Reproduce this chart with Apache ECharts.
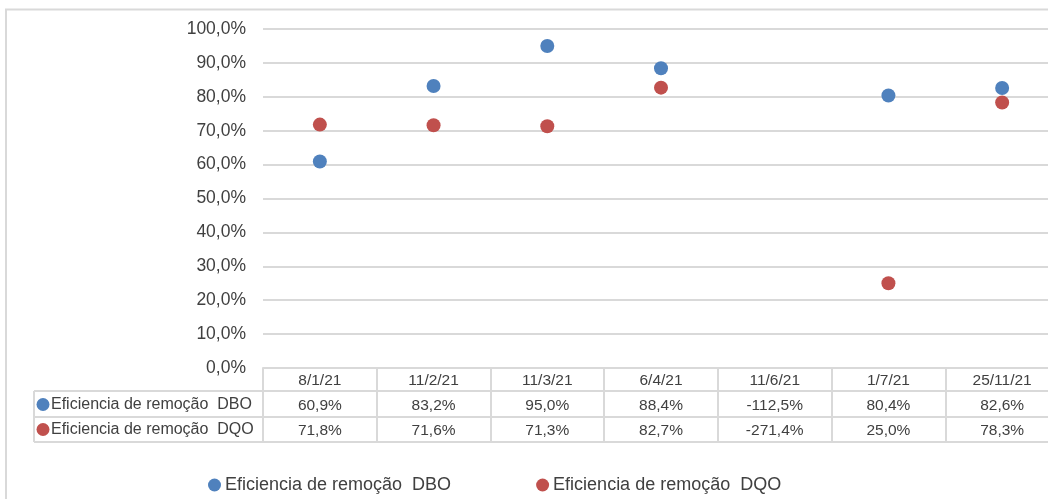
<!DOCTYPE html>
<html>
<head>
<meta charset="utf-8">
<script src="https://cdn.jsdelivr.net/npm/echarts@6/dist/echarts.min.js"></script>
<style>html,body{margin:0;padding:0;background:#fff;overflow:hidden;}#c{width:1080px;height:499px;}</style>
</head>
<body>
<div id="c"></div>
<script>
var dates = ['8/1/21', '11/2/21', '11/3/21', '6/4/21', '11/6/21', '1/7/21', '25/11/21'];
var dbo = [60.9, 83.2, 95.0, 88.4, -112.5, 80.4, 82.6];
var dqo = [71.8, 71.6, 71.3, 82.7, -271.4, 25.0, 78.3];
var seriesNames = ['Eficiencia de remoção  DBO', 'Eficiencia de remoção  DQO'];
var colors = ['#4F81BD', '#C0504D'];

var FONT = 'Liberation Sans, Arial, sans-serif';
var TXT = '#404040';
var LINE = '#D9D9D9';

function pct(v) { return v.toFixed(1).replace('.', ',') + '%'; }

var chart = echarts.init(document.getElementById('c'));

function tableAxis(offset, values, margin, showLabel, showTick, tickLen) {
  return {
    type: 'category',
    gridIndex: 0,
    position: 'bottom',
    offset: offset,
    data: dates,
    boundaryGap: true,
    axisLine: { show: true, lineStyle: { color: LINE, width: 2 } },
    axisTick: { show: showTick, interval: 0, length: tickLen, inside: false, lineStyle: { color: LINE, width: 2 } },
    axisLabel: {
      show: showLabel, interval: 0, margin: margin, fontSize: 15.5, fontFamily: FONT, color: TXT,
      formatter: function (v, i) { return values ? pct(values[i]) : v; }
    },
    splitLine: { show: false }
  };
}

var option = {
  animation: false,
  backgroundColor: '#fff',
  grid: { left: 263, top: 29, width: 796, height: 339, containLabel: false },
  xAxis: [
    tableAxis(0, null, 4.5, true, true, 23),
    tableAxis(23, dbo, 7, true, true, 26),
    tableAxis(49, dqo, 5.5, true, true, 25),
    tableAxis(74, null, 0, false, false, 0)
  ],
  yAxis: {
    type: 'value', min: 0, max: 1, interval: 0.1,
    axisLine: { show: false }, axisTick: { show: false },
    splitLine: { lineStyle: { color: LINE, width: 2 } },
    axisLabel: {
      margin: 17, fontSize: 17.5, fontFamily: FONT, color: TXT,
      formatter: function (v) { return pct(v * 100); }
    }
  },
  legend: {
    left: 203, top: 471,
    icon: 'circle', itemWidth: 13, itemHeight: 13, itemGap: 85,
    textStyle: { fontSize: 18, fontFamily: FONT, color: TXT, padding: [0, 0, 0, -1] },
    data: seriesNames
  },
  series: [
    {
      name: seriesNames[0], type: 'scatter', xAxisIndex: 0, clip: true,
      symbolSize: 14, itemStyle: { color: colors[0], opacity: 1 },
      data: dbo.map(function (v) { return v / 100; })
    },
    {
      name: seriesNames[1], type: 'scatter', xAxisIndex: 0, clip: true,
      symbolSize: 14, itemStyle: { color: colors[1], opacity: 1 },
      data: dqo.map(function (v) { return v / 100; })
    }
  ],
  graphic: [
    { type: 'rect', silent: true, z: -1, shape: { x: 6, y: 9.5, width: 1200, height: 700 },
      style: { fill: 'none', stroke: LINE, lineWidth: 2 } },
    { type: 'line', shape: { x1: 34, y1: 391, x2: 263, y2: 391 }, style: { stroke: LINE, lineWidth: 2 } },
    { type: 'line', shape: { x1: 34, y1: 417, x2: 263, y2: 417 }, style: { stroke: LINE, lineWidth: 2 } },
    { type: 'line', shape: { x1: 34, y1: 442, x2: 263, y2: 442 }, style: { stroke: LINE, lineWidth: 2 } },
    { type: 'line', shape: { x1: 34, y1: 391, x2: 34, y2: 442 }, style: { stroke: LINE, lineWidth: 2 } },
    { type: 'circle', shape: { cx: 43, cy: 404.5, r: 6.5 }, style: { fill: colors[0] } },
    { type: 'circle', shape: { cx: 43, cy: 429.5, r: 6.5 }, style: { fill: colors[1] } },
    { type: 'text', x: 51, y: 404.5, style: { text: seriesNames[0], fontSize: 16, fontFamily: FONT, fill: TXT, verticalAlign: 'middle' } },
    { type: 'text', x: 51, y: 429.5, style: { text: seriesNames[1], fontSize: 16, fontFamily: FONT, fill: TXT, verticalAlign: 'middle' } }
  ]
};
chart.setOption(option);
</script>
</body>
</html>
